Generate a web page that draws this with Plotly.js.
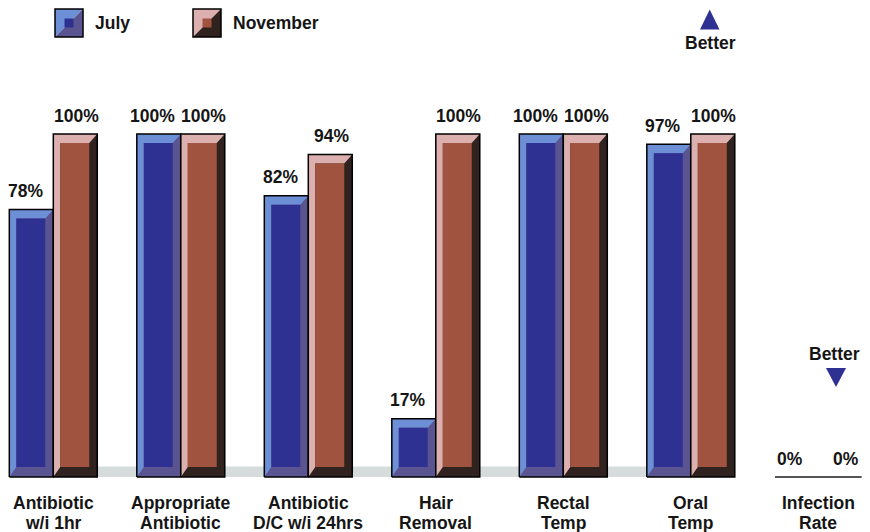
<!DOCTYPE html>
<html>
<head>
<meta charset="utf-8">
<script src="https://cdn.plot.ly/plotly-3.0.1.min.js"></script>
<style>
  html, body { margin: 0; padding: 0; background: #ffffff; }
  #chart { width: 870px; height: 532px; }
</style>
</head>
<body>
<div id="chart"></div>
<script>
// Surgical care measures, July vs November (percent compliance)
const categories = [
  'Antibiotic\nw/i 1hr',
  'Appropriate\nAntibiotic',
  'Antibiotic\nD/C w/i 24hrs',
  'Hair\nRemoval',
  'Rectal\nTemp',
  'Oral\nTemp',
  'Infection\nRate'
];
const seriesNames = ['July', 'November'];
const julyValues = [78, 100, 82, 17, 100, 97, 0];
const novemberValues = [100, 100, 94, 100, 100, 100, 0];

// ---- page geometry (pixels) ----
const FIG_W = 870, FIG_H = 532;
const px = x => x / FIG_W;          // pixel -> paper x
const py = y => 1 - y / FIG_H;      // pixel -> paper y

// bevelled bar styling (axis units)
const BAR_W = 0.345;
const BEV_L = 0.055, BEV_R = 0.063, BEV_T = 2.62, BEV_B = 2.92;

const palettes = [
  { light: '#6d8fd6', inner: '#2e3192', dark: '#5a5490' },
  { light: '#dbb0ae', inner: '#a0533f', dark: '#30221e' }
];

const FONT = { family: '"Liberation Sans", Arial, sans-serif', size: 17.5, color: '#151515', weight: 700 };

const positions = categories.map((_, i) => i);

function seriesTraces(values, side, pal) {
  const off = side === 0 ? -BAR_W : 0;
  const lx = [], ly = [], ix = [], iy = [], ox = [], oy = [];
  values.forEach((v, i) => {
    if (!(v > 0)) return;
    const x0 = positions[i] + off, x1 = x0 + BAR_W;
    // light bevel: left + top faces with mitred corners
    lx.push(x0, x0, x1, x1 - BEV_R, x0 + BEV_L, x0 + BEV_L, x0, null);
    ly.push(0, v, v, v - BEV_T, v - BEV_T, BEV_B, 0, null);
    // front face
    ix.push(x0 + BEV_L, x1 - BEV_R, x1 - BEV_R, x0 + BEV_L, x0 + BEV_L, null);
    iy.push(BEV_B, BEV_B, v - BEV_T, v - BEV_T, BEV_B, null);
    // outline
    ox.push(x0, x0, x1, x1, x0, null);
    oy.push(0, v, v, 0, 0, null);
  });
  const common = { hoverinfo: 'skip', showlegend: false };
  return [
    Object.assign({
      type: 'bar', x: positions, y: values, width: BAR_W, offset: off,
      marker: { color: pal.dark, line: { width: 0 } }, name: seriesNames[side]
    }, common),
    Object.assign({
      type: 'scatter', mode: 'lines', x: lx, y: ly, fill: 'toself',
      fillcolor: pal.light, line: { width: 0, color: pal.light }
    }, common),
    Object.assign({
      type: 'scatter', mode: 'lines', x: ix, y: iy, fill: 'toself',
      fillcolor: pal.inner, line: { width: 0, color: pal.inner }
    }, common),
    Object.assign({
      type: 'scatter', mode: 'lines', x: ox, y: oy,
      line: { width: 1.5, color: '#000000' }
    }, common)
  ];
}

const traces = [
  ...seriesTraces(julyValues, 0, palettes[0]),
  ...seriesTraces(novemberValues, 1, palettes[1])
];

// ---- annotations ----
const annotations = [];

// value labels above each bar
[julyValues, novemberValues].forEach((vals, side) => {
  vals.forEach((v, i) => {
    const drawn = v > 0;
    const dx = side === 0 ? -0.22 : (drawn ? 0.18 : 0.22);
    annotations.push({
      x: positions[i] + dx, y: v, xref: 'x', yref: 'y',
      text: v + '%', showarrow: false, font: FONT,
      xanchor: 'center', yanchor: 'middle', yshift: 18.5
    });
  });
});

// category labels (two lines each)
categories.forEach((c, i) => {
  c.split('\n').forEach((line, k) => {
    annotations.push({
      x: positions[i], y: py(k === 0 ? 503 : 522.5), xref: 'x', yref: 'paper',
      text: line, showarrow: false, font: FONT,
      xanchor: 'center', yanchor: 'middle'
    });
  });
});

// legend text
annotations.push(
  { x: px(93), y: py(23), xref: 'paper', yref: 'paper', text: seriesNames[0],
    showarrow: false, font: FONT, xanchor: 'left', yanchor: 'middle' },
  { x: px(231), y: py(23), xref: 'paper', yref: 'paper', text: seriesNames[1],
    showarrow: false, font: FONT, xanchor: 'left', yanchor: 'middle' },
  { x: px(710), y: py(43), xref: 'paper', yref: 'paper', text: 'Better',
    showarrow: false, font: FONT, xanchor: 'center', yanchor: 'middle' },
  { x: px(834), y: py(353.5), xref: 'paper', yref: 'paper', text: 'Better',
    showarrow: false, font: FONT, xanchor: 'center', yanchor: 'middle' }
);

// ---- shapes ----
function pathPx(points) {
  return 'M' + points.map(p => px(p[0]) + ',' + py(p[1])).join(' L') + ' Z';
}
function legendIcon(x0, y0, s, pal) {
  const x1 = x0 + s, y1 = y0 + s, cx = x0 + s / 2, cy = y0 + s / 2, h = 4.5;
  return [
    { type: 'path', xref: 'paper', yref: 'paper', path: pathPx([[x0, y0], [x1, y0], [x0, y1]]),
      fillcolor: pal.light, line: { width: 0 } },
    { type: 'path', xref: 'paper', yref: 'paper', path: pathPx([[x1, y0], [x1, y1], [x0, y1]]),
      fillcolor: pal.dark, line: { width: 0 } },
    { type: 'path', xref: 'paper', yref: 'paper',
      path: pathPx([[cx - h, cy - h], [cx + h, cy - h], [cx + h, cy + h], [cx - h, cy + h]]),
      fillcolor: pal.inner, line: { width: 0 } },
    { type: 'path', xref: 'paper', yref: 'paper',
      path: pathPx([[x0, y0], [x1, y0], [x1, y1], [x0, y1]]),
      fillcolor: 'rgba(0,0,0,0)', line: { width: 1.5, color: '#000000' } }
  ];
}

const lastBarGroup = positions[positions.length - 2];
const infectionPos = positions[positions.length - 1];

const shapes = [
  // floor strip under the bar groups
  { type: 'rect', xref: 'x', yref: 'y', layer: 'below',
    x0: positions[0] - BAR_W, x1: lastBarGroup + BAR_W, y0: 0, y1: 3.06,
    fillcolor: '#d6dcdc', line: { width: 0 } },
  // baseline under the infection-rate values
  { type: 'line', xref: 'x', yref: 'y',
    x0: infectionPos - 0.34, x1: infectionPos + 0.34, y0: 0, y1: 0,
    line: { color: '#555555', width: 2 } },
  ...legendIcon(55, 9, 28, palettes[0]),
  ...legendIcon(193, 9, 28, palettes[1]),
  // "better" direction markers
  { type: 'path', xref: 'paper', yref: 'paper',
    path: pathPx([[700, 29.5], [719.5, 29.5], [709.7, 9.5]]),
    fillcolor: '#2e3192', line: { width: 0 } },
  { type: 'path', xref: 'paper', yref: 'paper',
    path: pathPx([[826, 368], [846, 368], [836, 387]]),
    fillcolor: '#2e3192', line: { width: 0 } }
];

const layout = {
  width: FIG_W, height: FIG_H,
  margin: { l: 0, r: 0, t: 0, b: 0, pad: 0 },
  paper_bgcolor: '#ffffff', plot_bgcolor: '#ffffff',
  barmode: 'overlay',
  showlegend: false,
  xaxis: { range: [-0.418, 6.4055], visible: false, fixedrange: true },
  yaxis: { range: [-16.035, 139.067], visible: false, fixedrange: true },
  annotations: annotations,
  shapes: shapes
};

Plotly.newPlot('chart', traces, layout, { displayModeBar: false, staticPlot: true });
</script>
</body>
</html>
